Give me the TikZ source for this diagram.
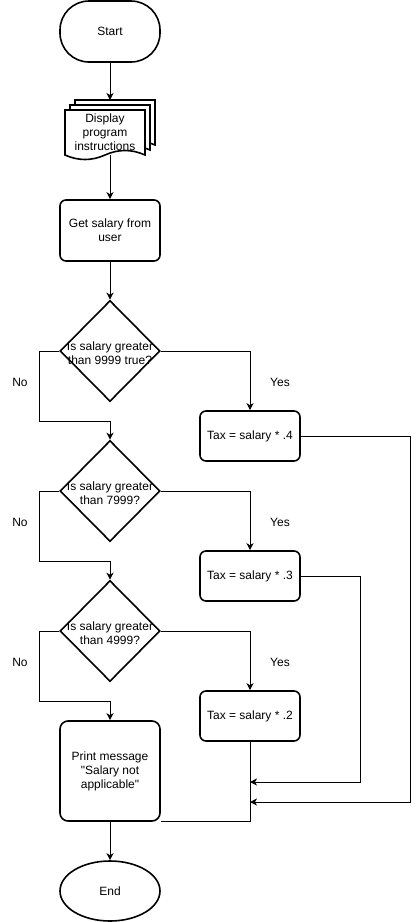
\documentclass[tikz,border=0pt]{standalone}
\usepackage{fontspec}
\setmainfont{Liberation Sans}
\usetikzlibrary{shapes.geometric,arrows.meta}

\begin{document}
\begin{tikzpicture}[x=1pt,y=-1pt,
    font=\fontsize{12}{14}\selectfont,
    shape line/.style={line width=1.6pt},
    box/.style={draw,shape line,rounded corners=6pt,inner sep=0pt,minimum width=100pt,align=center},
    decision/.style={draw,shape line,diamond,inner sep=0pt,minimum width=100pt,minimum height=101pt},
    label/.style={align=center,inner sep=0pt},
    arr/.style={line width=1pt,-{Stealth[length=7pt,width=7pt,inset=2pt]}},
    link/.style={line width=1pt}]
    \useasboundingbox (0,0) rectangle (419,922);
    % start and end
    \node[box,rounded corners=29pt,minimum height=61pt] (start) at (110,31.5) {Start};
    \node[draw,shape line,ellipse,inner sep=0pt,minimum width=100pt,minimum height=60pt] (end) at (110,891) {End};
    % stack of pages
    \foreach \d in {10,5,0}
        \filldraw[shape line,fill=white,shift={(\d,-\d)}] (65,110) -- (145,110) -- (145,155)
            .. controls (131.7,149) and (118.3,149) .. (105,155)
            .. controls (91.7,161) and (78.3,161) .. (65,155) -- cycle;
    \node[label] (doc) at (105,132) {Display\\program\\instructions};
    \coordinate (docin) at (110,100);
    \coordinate (docout) at (110,155);
    \node[box,minimum height=61pt] (get) at (110,230.5) {Get salary from\\user};
    % decisions
    \node[decision] (q1) at (110,351) {};
    \node[label] (q1text) at (110,353) {Is salary greater\\than 9999 true?};
    \node[decision] (q2) at (110,491) {};
    \node[label] (q2text) at (110,493) {Is salary greater\\than 7999?};
    \node[decision] (q3) at (110,631) {};
    \node[label] (q3text) at (110,633) {Is salary greater\\than 4999?};
    % tax boxes
    \node[box,minimum height=50pt] (t1) at (250,436) {Tax = salary * .4};
    \node[box,minimum height=50pt] (t2) at (250,576) {Tax = salary * .3};
    \node[box,minimum height=50pt] (t3) at (250,716) {Tax = salary * .2};
    \node[box,rounded corners=8pt,minimum height=100pt] (print) at (110,771)
        {Print message\\\textquotedbl Salary not\\applicable\textquotedbl};
    % yes / no
    \node (yes1) at (280,382) {Yes};
    \node (no1) at (20,382) {No};
    \node (yes2) at (280,522) {Yes};
    \node (no2) at (20,522) {No};
    \node (yes3) at (280,662) {Yes};
    \node (no3) at (20,662) {No};
    % connectors
    \draw[arr] (start) -- (docin);
    \draw[arr] (docout) -- (get);
    \draw[arr] (get) -- (q1);
    \draw[arr] (q1.east) -| (t1.north);
    \draw[arr] (q1.west) -| ++(-20,70) -| (q2.north);
    \draw[arr] (q2.east) -| (t2.north);
    \draw[arr] (q2.west) -| ++(-20,70) -| (q3.north);
    \draw[arr] (q3.east) -| (t3.north);
    \draw[arr] (q3.west) -| ++(-20,70) -| (print.north);
    \coordinate (join2) at (250,782);
    \coordinate (join1) at (250,802);
    \draw[arr] (t1.east) -- ++(110,0) |- (join1);
    \draw[arr] (t2.east) -- ++(60,0) |- (join2);
    \draw[link] (t3.south) |- (print.south east);
    \draw[arr] (print) -- (end);
\end{tikzpicture}
\end{document}
